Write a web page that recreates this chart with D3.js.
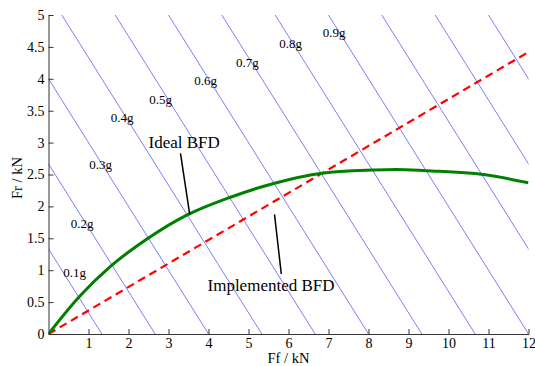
<!DOCTYPE html>
<html>
<head>
<meta charset="utf-8">
<script src="https://cdn.jsdelivr.net/npm/d3@7"></script>
<style>
  body { margin: 0; background: #fff; }
  text { font-family: "Liberation Serif", "DejaVu Serif", serif; fill: #000; }
</style>
</head>
<body>
<div id="chart"></div>
<script>
// ideal braking force distribution
const idealFf = [0, 0.78, 1.57, 2.49, 3.48, 4.53, 5.63, 6.84, 8.09, 8.7, 9.44, 10.87, 12];
const idealFr = [0, 0.59, 1.07, 1.50, 1.87, 2.14, 2.36, 2.52, 2.57, 2.58, 2.56, 2.50, 2.37];

// implemented (fixed ratio) distribution
const implFf = [0, 12];
const implFr = [0, 4.42];

// constant deceleration lines: Ff + Fr = intercept
const decelIntercepts = [1.333, 2.667, 4, 5.333, 6.667, 8, 9.333, 10.667, 12, 13.333, 14.667, 16];

// deceleration labels and where they sit (data coords)
const gLabels = ['0.1g', '0.2g', '0.3g', '0.4g', '0.5g', '0.6g', '0.7g', '0.8g', '0.9g'];
const gLabelFf = [0.65, 0.84, 1.3, 1.84, 2.8, 3.93, 4.97, 6.05, 7.14];
const gLabelFr = [0.97, 1.74, 2.66, 3.40, 3.67, 3.97, 4.26, 4.55, 4.73];

const xTicks = [1, 2, 3, 4, 5, 6, 7, 8, 9, 10, 11, 12];
const yTicks = [0, 0.5, 1, 1.5, 2, 2.5, 3, 3.5, 4, 4.5, 5];

const W = 535, H = 366;
const margin = {top: 15, right: 6.5, bottom: 32, left: 48.5};
const width = W - margin.left - margin.right;
const height = H - margin.top - margin.bottom;

const svg = d3.select('#chart').append('svg')
    .attr('width', W).attr('height', H);

svg.append('defs').append('clipPath').attr('id', 'clip')
    .append('rect').attr('width', width).attr('height', height);

const g = svg.append('g')
    .attr('transform', 'translate(' + margin.left + ',' + margin.top + ')');

const x = d3.scaleLinear().domain([0, 12]).range([0, width]);
const y = d3.scaleLinear().domain([0, 5]).range([height, 0]);

const plot = g.append('g').attr('clip-path', 'url(#clip)');

// blue iso-deceleration lines
plot.selectAll('line.decel')
    .data(decelIntercepts)
    .enter().append('line')
    .attr('class', 'decel')
    .attr('x1', d => x(d)).attr('y1', y(0))
    .attr('x2', d => x(0)).attr('y2', d => y(d))
    .attr('stroke', '#5a5aff')
    .attr('stroke-width', 0.8);

const line = d3.line()
    .x(d => x(d[0]))
    .y(d => y(d[1]));

plot.append('path')
    .datum(implFf.map((f, i) => [f, implFr[i]]))
    .attr('d', line)
    .attr('fill', 'none')
    .attr('stroke', '#ff0000')
    .attr('stroke-width', 2.2)
    .attr('stroke-dasharray', '8,5');

plot.append('path')
    .datum(idealFf.map((f, i) => [f, idealFr[i]]))
    .attr('d', line.curve(d3.curveMonotoneX))
    .attr('fill', 'none')
    .attr('stroke', '#008000')
    .attr('stroke-width', 3);

// deceleration labels
g.selectAll('text.glab')
    .data(gLabels)
    .enter().append('text')
    .attr('class', 'glab')
    .attr('x', (d, i) => x(gLabelFf[i]))
    .attr('y', (d, i) => y(gLabelFr[i]))
    .attr('dy', '0.35em')
    .attr('text-anchor', 'middle')
    .style('font-size', '13px')
    .text(d => d);

// annotations
g.append('line')
    .attr('x1', x(3.3)).attr('y1', y(2.83))
    .attr('x2', x(3.53)).attr('y2', y(1.876))
    .attr('stroke', '#000').attr('stroke-width', 1.5);
g.append('text')
    .attr('x', x(2.5)).attr('y', y(2.92))
    .style('font-size', '17px')
    .text('Ideal BFD');

g.append('line')
    .attr('x1', x(5.65)).attr('y1', y(1.876))
    .attr('x2', x(5.82)).attr('y2', y(0.94))
    .attr('stroke', '#000').attr('stroke-width', 1.5);
g.append('text')
    .attr('x', x(3.975)).attr('y', y(0.68))
    .style('font-size', '17px')
    .text('Implemented BFD');

// axes, matlab style ticks pointing inward
const xAxis = g.append('g')
    .attr('transform', 'translate(0,' + height + ')')
    .call(d3.axisBottom(x).tickValues(xTicks).tickSizeInner(-5).tickSizeOuter(0).tickPadding(4));
const yAxis = g.append('g')
    .call(d3.axisLeft(y).tickValues(yTicks).tickSizeInner(-5).tickSizeOuter(0).tickPadding(4)
        .tickFormat(d3.format('')));

[xAxis, yAxis].forEach(a => {
    a.selectAll('path, line').attr('stroke', '#333');
    a.selectAll('text')
        .style('font-family', '"Liberation Serif", serif')
        .style('font-size', '14px')
        .attr('fill', '#000');
});

svg.append('text')
    .attr('x', margin.left + x(6.0))
    .attr('y', 363)
    .attr('text-anchor', 'middle')
    .style('font-size', '14.5px')
    .text('Ff / kN');

svg.append('text')
    .attr('transform', 'translate(22,178) rotate(-90)')
    .attr('text-anchor', 'middle')
    .style('font-size', '14.5px')
    .text('Fr / kN');
</script>
</body>
</html>
